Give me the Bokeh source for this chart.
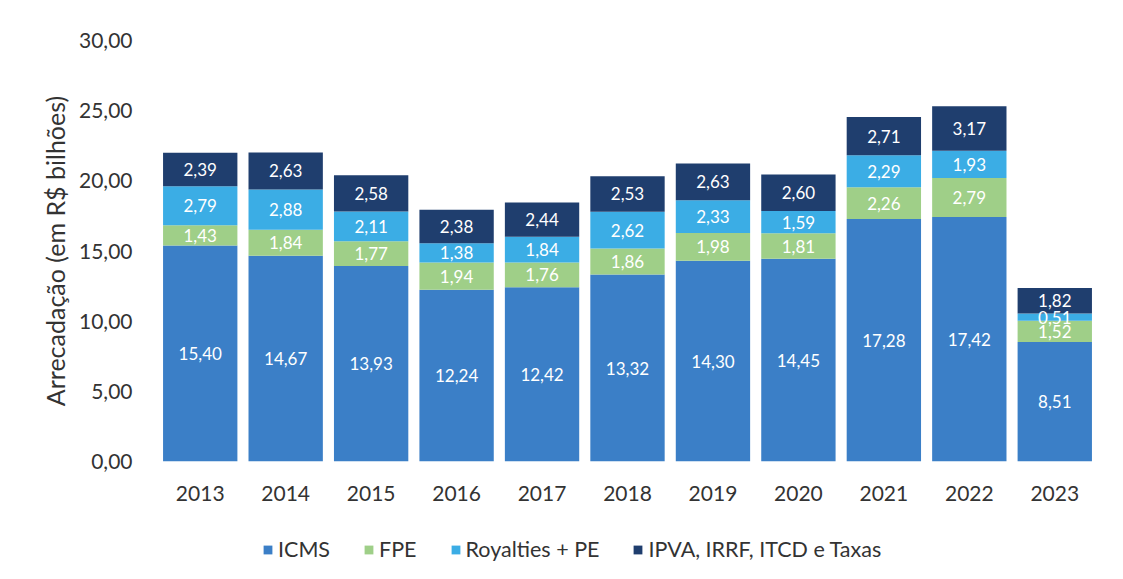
from bokeh.plotting import figure
from bokeh.layouts import column
from bokeh.models import ColumnDataSource, LabelSet, Legend, LegendItem, FixedTicker, Range1d
from bokeh.core.properties import value
from bokeh.embed import file_html
from bokeh.resources import INLINE

years = ["2013", "2014", "2015", "2016", "2017", "2018", "2019", "2020", "2021", "2022", "2023"]
icms = [15.40, 14.67, 13.93, 12.24, 12.42, 13.32, 14.30, 14.45, 17.28, 17.42, 8.51]
fpe = [1.43, 1.84, 1.77, 1.94, 1.76, 1.86, 1.98, 1.81, 2.26, 2.79, 1.52]
royalties = [2.79, 2.88, 2.11, 1.38, 1.84, 2.62, 2.33, 1.59, 2.29, 1.93, 0.51]
ipva = [2.39, 2.63, 2.58, 2.38, 2.44, 2.53, 2.63, 2.60, 2.71, 3.17, 1.82]
series_names = ["ICMS", "FPE", "Royalties + PE", "IPVA, IRRF, ITCD e Taxas"]
y_ticks = [0, 5, 10, 15, 20, 25, 30]
y_tick_labels = ["0,00", "5,00", "10,00", "15,00", "20,00", "25,00", "30,00"]

colors = ["#3b7fc7", "#9fcf88", "#3badE5", "#1f3e6e"]
keys = ["icms", "fpe", "royalties", "ipva"]
FONT = "Lato"
TXT = "#333333"

def fmt(v):
    return f"{v:.2f}".replace(".", ",")

data = dict(years=years, icms=icms, fpe=fpe, royalties=royalties, ipva=ipva)
cum = [0.0] * len(years)
for k, vals in zip(keys, [icms, fpe, royalties, ipva]):
    data[k + "_mid"] = [c + v / 2 for c, v in zip(cum, vals)]
    data[k + "_txt"] = [fmt(v) for v in vals]
    cum = [c + v for c, v in zip(cum, vals)]
src = ColumnDataSource(data)

p = figure(x_range=years, y_range=(0, 30), frame_width=940, frame_height=421,
           output_backend="svg", toolbar_location=None,
           min_border_left=157, min_border_right=16, min_border_top=40, min_border_bottom=60)
p.outline_line_color = None
p.xgrid.grid_line_color = None
p.ygrid.grid_line_color = None

rs = p.vbar_stack(keys, x="years", width=0.87, color=colors, source=src, line_color=None)

for k in keys:
    p.add_layout(LabelSet(x="years", y=k + "_mid", text=k + "_txt", source=src,
                          text_color="white", text_font_size="17px", text_font=value(FONT),
                          text_align="center", text_baseline="middle"))

p.yaxis.ticker = FixedTicker(ticks=y_ticks)
p.yaxis.major_label_overrides = {t: l for t, l in zip(y_ticks, y_tick_labels)}
for ax in (p.xaxis[0], p.yaxis[0]):
    ax.axis_line_color = None
    ax.major_tick_line_color = None
    ax.minor_tick_line_color = None
    ax.major_label_text_font = FONT
    ax.major_label_text_font_size = "21px"
    ax.major_label_text_color = TXT
p.xaxis.major_label_standoff = 18
p.yaxis.major_label_standoff = 19
p.yaxis.axis_label = "Arrecadação (em R$ bilhões)"
p.yaxis.axis_label_text_font = FONT
p.yaxis.axis_label_text_font_size = "25px"
p.yaxis.axis_label_text_font_style = "normal"
p.yaxis.axis_label_text_color = TXT
p.yaxis.axis_label_standoff = 6

# legend strip below the chart (its bars are hidden; only the legend shows)
lg = figure(x_range=years, y_range=Range1d(0, 30), width=1113, height=50,
            output_backend="svg", toolbar_location=None,
            x_axis_location=None, y_axis_location=None, min_border=0)
lg.outline_line_color = None
lg.grid.visible = False
lrs = lg.vbar_stack(keys, x="years", width=0.87, color=colors, source=src, line_color=None)
for r in lrs:
    r.visible = False
legend = Legend(items=[LegendItem(label=n, renderers=[r]) for n, r in zip(series_names, lrs)],
                orientation="horizontal", location=(105, 9), margin=0,
                label_text_font=FONT, label_text_font_size="21.5px", label_text_color=TXT,
                glyph_width=11, glyph_height=11, spacing=33, label_standoff=5,
                padding=3, border_line_color=None, background_fill_alpha=0,
                inactive_fill_alpha=0)
lg.add_layout(legend, "center")

layout = column(p, lg, spacing=0)
open("out.html", "w").write(file_html(layout, INLINE))
